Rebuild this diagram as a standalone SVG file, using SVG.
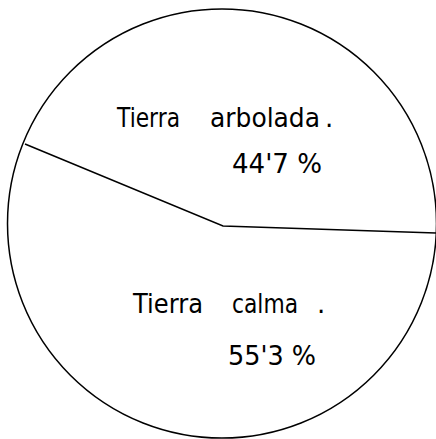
<svg xmlns="http://www.w3.org/2000/svg" width="436" height="439" viewBox="0 0 436 439">
<style>
.ln{fill:none;stroke:#000;stroke-width:1.5}
text{font-family:"DejaVu Sans","Liberation Sans",sans-serif;font-size:26px;fill:#000}
</style>
<rect width="436" height="439" fill="#fff"/>
<g id="pie">
<circle class="ln" cx="222" cy="223.5" r="214.5"/>
</g>
<g id="connectors">
<polyline class="ln" points="25,144 223,226 436,233"/>
</g>
<g id="arbolada">
<text x="117" y="127" textLength="63" lengthAdjust="spacingAndGlyphs">Tierra</text>
<text x="210" y="127" textLength="110" lengthAdjust="spacingAndGlyphs">arbolada</text>
<text x="325" y="127">.</text>
<text x="232" y="173" textLength="90" lengthAdjust="spacingAndGlyphs">44'7 %</text>
</g>
<g id="calma">
<text x="133" y="313" textLength="70" lengthAdjust="spacingAndGlyphs">Tierra</text>
<text x="232" y="313" textLength="66" lengthAdjust="spacingAndGlyphs">calma</text>
<text x="317" y="313">.</text>
<text x="228" y="365" textLength="88" lengthAdjust="spacingAndGlyphs">55'3 %</text>
</g>
</svg>
